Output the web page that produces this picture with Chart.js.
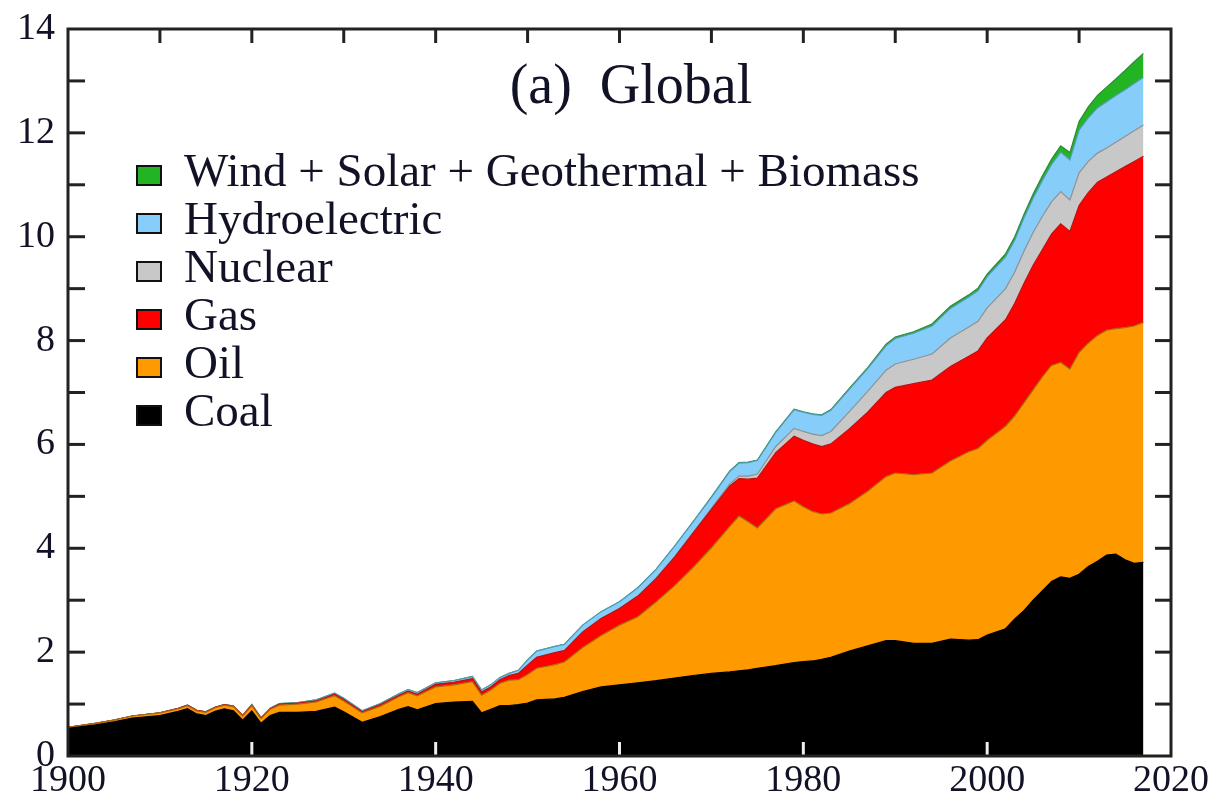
<!DOCTYPE html>
<html>
<head>
<meta charset="utf-8">
<script src="https://cdn.jsdelivr.net/npm/chart.js@4.4.0/dist/chart.umd.min.js"></script>
<style>
  html, body { margin: 0; padding: 0; background: #fff; }
  #chart { display: block; }
</style>
</head>
<body>
<canvas id="chart" width="1219" height="795"></canvas>
<script>
// years (irregular spacing, denser where the curves bend)
const years = [1900, 1903, 1905, 1907, 1910, 1912, 1913, 1914, 1915, 1916, 1917, 1918, 1919, 1920,
  1921, 1922, 1923, 1925, 1927, 1929, 1930, 1932, 1934, 1936, 1937, 1938, 1940, 1942, 1944, 1945,
  1946, 1947, 1948, 1949, 1950, 1951, 1953, 1954, 1956, 1958, 1960, 1962, 1964, 1966, 1968, 1970,
  1972, 1973, 1974, 1975, 1977, 1979, 1980, 1981, 1982, 1983, 1985, 1987, 1989, 1990, 1992, 1994,
  1996, 1998, 1999, 2000, 2002, 2003, 2004, 2005, 2006, 2007, 2008, 2009, 2010, 2011, 2012, 2013,
  2014, 2015, 2016, 2017];

const coal = [0.53, 0.60, 0.66, 0.73, 0.78, 0.86, 0.91, 0.81, 0.78, 0.86, 0.91, 0.87, 0.69, 0.87,
  0.63, 0.78, 0.84, 0.84, 0.86, 0.94, 0.85, 0.65, 0.76, 0.90, 0.95, 0.89, 1.01, 1.04, 1.05, 0.83,
  0.90, 0.97, 0.97, 0.99, 1.02, 1.08, 1.10, 1.13, 1.24, 1.33, 1.37, 1.41, 1.45, 1.50, 1.55, 1.59,
  1.62, 1.64, 1.66, 1.69, 1.74, 1.80, 1.82, 1.83, 1.86, 1.90, 2.02, 2.12, 2.22, 2.22, 2.17, 2.17,
  2.25, 2.23, 2.24, 2.33, 2.45, 2.64, 2.80, 3.00, 3.18, 3.36, 3.45, 3.42, 3.50, 3.65, 3.75, 3.87,
  3.89, 3.78, 3.71, 3.73];

const oil = [0.02, 0.03, 0.03, 0.04, 0.05, 0.05, 0.06, 0.06, 0.06, 0.07, 0.07, 0.08, 0.08, 0.10,
  0.09, 0.12, 0.14, 0.16, 0.18, 0.22, 0.21, 0.18, 0.20, 0.24, 0.27, 0.27, 0.32, 0.33, 0.38, 0.34,
  0.37, 0.43, 0.49, 0.48, 0.55, 0.61, 0.66, 0.68, 0.85, 0.99, 1.15, 1.27, 1.52, 1.78, 2.08, 2.42,
  2.80, 2.98, 2.85, 2.70, 3.02, 3.11, 2.98, 2.88, 2.80, 2.78, 2.84, 2.98, 3.16, 3.23, 3.25, 3.28,
  3.43, 3.63, 3.68, 3.75, 3.90, 3.91, 4.00, 4.05, 4.12, 4.16, 4.13, 4.03, 4.27, 4.30, 4.35, 4.33,
  4.34, 4.47, 4.57, 4.62];

const gas = [0.00, 0.00, 0.00, 0.00, 0.00, 0.01, 0.01, 0.01, 0.01, 0.01, 0.01, 0.01, 0.01, 0.01,
  0.01, 0.01, 0.02, 0.02, 0.02, 0.03, 0.03, 0.02, 0.03, 0.03, 0.03, 0.03, 0.05, 0.05, 0.06, 0.06,
  0.06, 0.07, 0.09, 0.12, 0.18, 0.21, 0.23, 0.22, 0.30, 0.33, 0.32, 0.40, 0.45, 0.55, 0.66, 0.74,
  0.78, 0.72, 0.82, 0.96, 1.08, 1.25, 1.28, 1.30, 1.30, 1.33, 1.44, 1.52, 1.62, 1.65, 1.75, 1.79,
  1.82, 1.84, 1.88, 1.97, 2.05, 2.17, 2.30, 2.40, 2.45, 2.53, 2.67, 2.65, 2.83, 2.90, 2.95, 2.95,
  3.02, 3.10, 3.17, 3.20];

const nuclear = [0, 0, 0, 0, 0, 0, 0, 0, 0, 0, 0, 0, 0, 0,
  0, 0, 0, 0, 0, 0, 0, 0, 0, 0, 0, 0, 0, 0, 0, 0,
  0, 0, 0, 0, 0, 0, 0, 0, 0, 0, 0, 0, 0.01, 0.01, 0.01, 0.02,
  0.04, 0.05, 0.06, 0.08, 0.12, 0.15, 0.17, 0.19, 0.21, 0.24, 0.33, 0.40, 0.43, 0.45, 0.47, 0.50,
  0.55, 0.56, 0.57, 0.58, 0.60, 0.60, 0.62, 0.63, 0.64, 0.62, 0.62, 0.61, 0.63, 0.60, 0.56, 0.56,
  0.57, 0.58, 0.59, 0.60];

const hydro = [0.00, 0.00, 0.00, 0.00, 0.00, 0.00, 0.00, 0.00, 0.00, 0.00, 0.00, 0.00, 0.00, 0.01,
  0.01, 0.01, 0.01, 0.01, 0.02, 0.02, 0.02, 0.02, 0.02, 0.03, 0.03, 0.03, 0.03, 0.03, 0.04, 0.04,
  0.04, 0.04, 0.04, 0.06, 0.10, 0.12, 0.12, 0.12, 0.13, 0.13, 0.13, 0.16, 0.17, 0.20, 0.21, 0.21,
  0.24, 0.25, 0.26, 0.26, 0.27, 0.36, 0.37, 0.38, 0.39, 0.41, 0.43, 0.44, 0.47, 0.49, 0.50, 0.54,
  0.57, 0.58, 0.59, 0.60, 0.61, 0.61, 0.64, 0.66, 0.69, 0.72, 0.76, 0.77, 0.82, 0.84, 0.87, 0.89,
  0.90, 0.90, 0.91, 0.92];

const renewables = [0, 0, 0, 0, 0, 0, 0, 0, 0, 0, 0, 0, 0, 0,
  0, 0, 0, 0, 0, 0, 0, 0, 0, 0, 0, 0, 0, 0, 0, 0,
  0, 0, 0, 0, 0, 0, 0, 0, 0, 0, 0, 0, 0, 0, 0, 0.01,
  0.01, 0.01, 0.01, 0.01, 0.01, 0.01, 0.01, 0.01, 0.01, 0.01, 0.02, 0.02, 0.03, 0.03, 0.03, 0.04,
  0.04, 0.04, 0.05, 0.05, 0.06, 0.07, 0.07, 0.08, 0.09, 0.10, 0.12, 0.14, 0.17, 0.21, 0.24, 0.28,
  0.32, 0.37, 0.42, 0.46];

const seriesNames = ['Coal', 'Oil', 'Gas', 'Nuclear', 'Hydroelectric', 'Wind + Solar + Geothermal + Biomass'];
const seriesData = [coal, oil, gas, nuclear, hydro, renewables];
const fillColors = ['#000000', '#ff9900', '#ff0000', '#c8c8c8', '#87cdfa', '#22b422'];
const lineColors = ['#000000', '#a86a10', '#c01010', '#909090', '#4f9cb8', '#2e8a3a'];

const xTicks = [1900, 1920, 1940, 1960, 1980, 2000, 2020];
const topTicks = [1910, 1920, 1930, 1940, 1950, 1960, 1970, 1980, 1990, 2000, 2010];
const yTicks = [0, 2, 4, 6, 8, 10, 12, 14];
const sideTicks = [1, 2, 3, 4, 5, 6, 7, 8, 9, 10, 11, 12, 13];

const serif = "'Liberation Serif', 'Times New Roman', serif";
const textColor = '#121226';

// frame + inward ticks, drawn over the areas
const framePlugin = {
  id: 'frame',
  afterDatasetsDraw(chart) {
    const { ctx, chartArea: a, scales: { x, y } } = chart;
    ctx.save();
    ctx.lineCap = 'butt';

    // bottom ticks show as light marks over the fill
    ctx.strokeStyle = '#eeeeee';
    ctx.lineWidth = 3;
    xTicks.slice(1, -1).forEach(v => {
      const px = x.getPixelForValue(v);
      ctx.beginPath(); ctx.moveTo(px, a.bottom); ctx.lineTo(px, a.bottom - 14); ctx.stroke();
    });

    ctx.strokeStyle = '#222222';
    topTicks.forEach(v => {
      const px = x.getPixelForValue(v);
      ctx.beginPath(); ctx.moveTo(px, a.top); ctx.lineTo(px, a.top + 14); ctx.stroke();
    });
    sideTicks.forEach(v => {
      const py = y.getPixelForValue(v);
      ctx.beginPath(); ctx.moveTo(a.left, py); ctx.lineTo(a.left + 17, py); ctx.stroke();
      ctx.beginPath(); ctx.moveTo(a.right, py); ctx.lineTo(a.right - 16, py); ctx.stroke();
    });

    ctx.lineWidth = 3;
    ctx.strokeRect(a.left, a.top, a.right - a.left, a.bottom - a.top);
    ctx.restore();
  }
};

// title and legend inside the plot
const legendPlugin = {
  id: 'innerLegend',
  afterDraw(chart) {
    const { ctx } = chart;
    ctx.save();
    ctx.fillStyle = textColor;
    ctx.textBaseline = 'alphabetic';
    ctx.textAlign = 'center';
    ctx.font = '56px ' + serif;
    ctx.fillText('(a)  Global', 631, 103);

    ctx.textAlign = 'left';
    ctx.font = '47px ' + serif;
    const sets = chart.data.datasets.slice().reverse();
    sets.forEach((ds, i) => {
      const cy = 175 + i * 48;
      ctx.fillStyle = ds.backgroundColor;
      ctx.fillRect(137, cy - 9, 24, 19);
      ctx.strokeStyle = '#111111';
      ctx.lineWidth = 2;
      ctx.strokeRect(137, cy - 9, 24, 19);
      ctx.fillStyle = textColor;
      ctx.fillText(ds.label, 184, cy + 11);
    });
    ctx.restore();
  }
};

new Chart(document.getElementById('chart'), {
  type: 'line',
  data: {
    labels: years,
    datasets: seriesNames.map((name, i) => ({
      label: name,
      data: seriesData[i],
      backgroundColor: fillColors[i],
      borderColor: lineColors[i],
      borderWidth: 1.2,
      pointRadius: 0,
      tension: 0,
      fill: i === 0 ? 'origin' : '-1'
    }))
  },
  options: {
    responsive: false,
    animation: false,
    devicePixelRatio: 1,
    layout: { padding: { top: 29, right: 48, left: 0, bottom: 0 } },
    plugins: { legend: { display: false }, tooltip: { enabled: false } },
    scales: {
      x: {
        type: 'linear',
        min: 1900,
        max: 2020,
        grid: { display: false, drawTicks: false },
        border: { display: false },
        afterFit: s => { s.height = 39; },
        afterBuildTicks: s => { s.ticks = xTicks.map(v => ({ value: v })); },
        ticks: {
          padding: 2,
          maxRotation: 0,
          color: textColor,
          font: { family: serif, size: 38 },
          callback: v => String(v)
        }
      },
      y: {
        stacked: true,
        min: 0,
        max: 14,
        grid: { display: false, drawTicks: false },
        border: { display: false },
        afterFit: s => { s.width = 68; s.paddingTop = 0; s.paddingBottom = 0; },
        afterBuildTicks: s => { s.ticks = yTicks.map(v => ({ value: v })); },
        ticks: {
          padding: 13,
          color: textColor,
          font: { family: serif, size: 38 }
        }
      }
    }
  },
  plugins: [framePlugin, legendPlugin]
});
</script>
</body>
</html>
